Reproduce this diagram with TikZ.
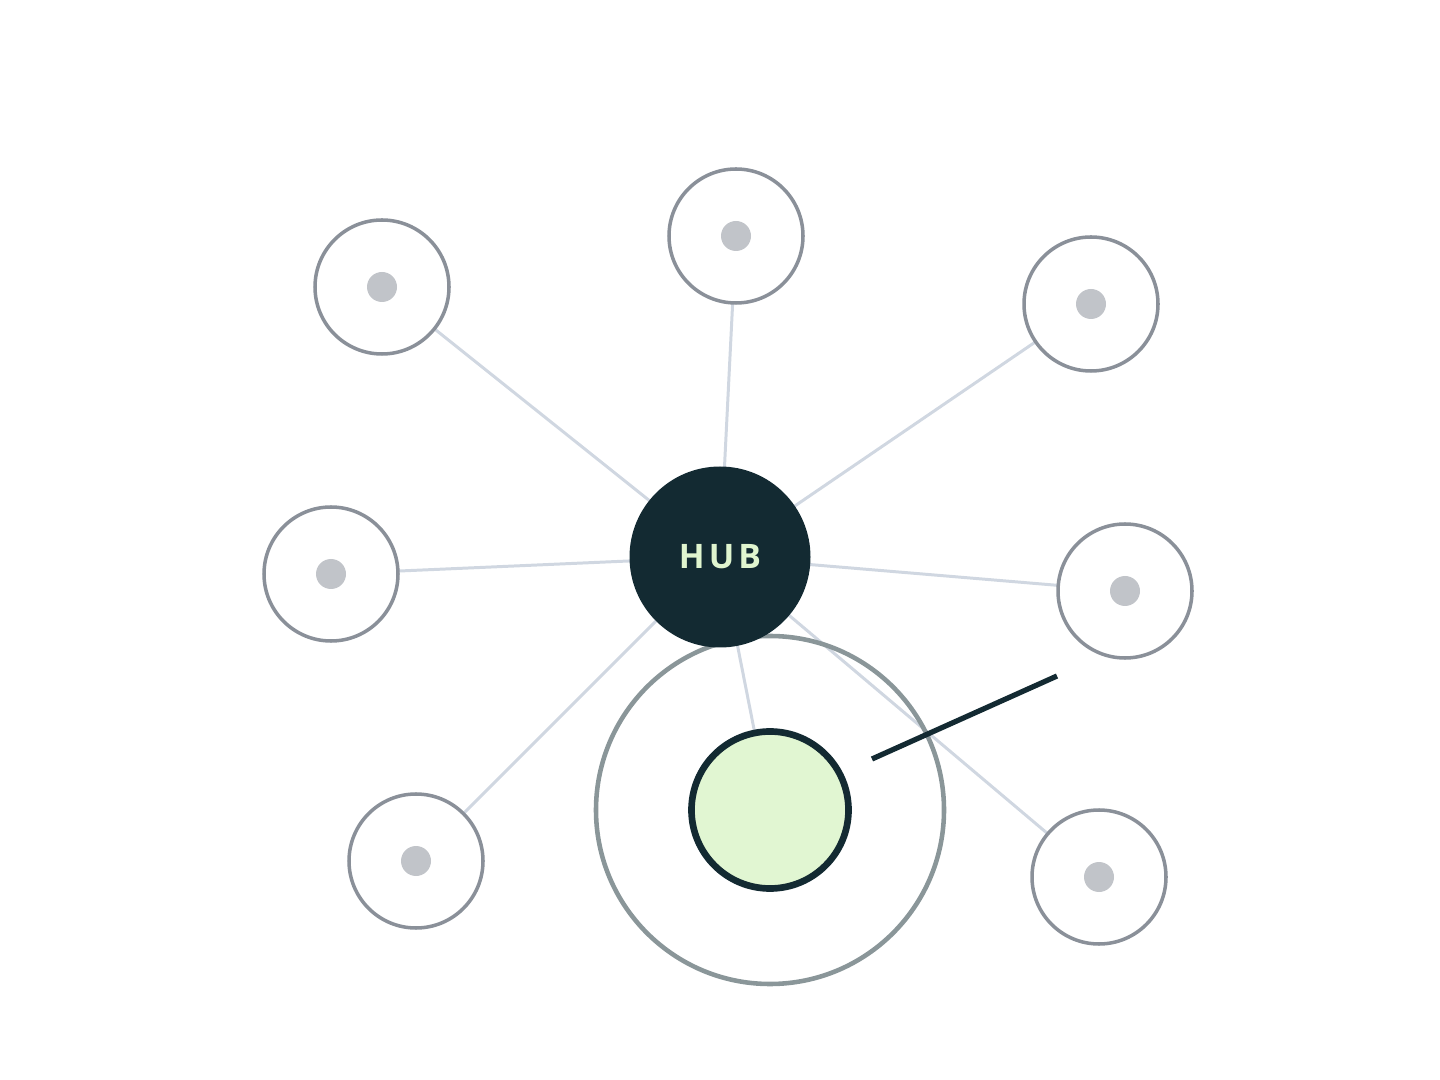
\documentclass[tikz,border=0pt]{standalone}
\usepackage{fontspec}
\newfontfamily\hubfont[LetterSpace=12]{Open Sans}
\usetikzlibrary{backgrounds}

\definecolor{hubdark}{HTML}{132A32}
\definecolor{hubtext}{HTML}{E0F5CF}
\definecolor{edgegray}{HTML}{D0D7E1}
\definecolor{satgray}{HTML}{8A9099}
\definecolor{dotgray}{HTML}{C1C4C9}
\definecolor{ringgray}{HTML}{8A9699}
\definecolor{focusgreen}{HTML}{E1F6D2}

\tikzset{
  hubnode/.style={circle,fill=hubdark,minimum size=1.81cm,inner sep=0pt},
  satnode/.style={circle,draw=satgray,line width=1pt,fill=white,minimum size=1.34cm,inner sep=0pt},
  satdot/.style={circle,fill=dotgray,minimum size=0.30cm,inner sep=0pt},
  spoke/.style={edgegray,line width=0.85pt},
  halo/.style={circle,draw=ringgray,line width=1.3pt,minimum size=3.48cm,inner sep=0pt},
  focusnode/.style={circle,draw=hubdark,line width=1.9pt,fill=focusgreen,minimum size=1.57cm,inner sep=0pt},
}

\begin{document}
\begin{tikzpicture}
	\useasboundingbox (0,0) rectangle (14.4,-10.8);

	% hub and outer nodes
	\node[hubnode] (hub) at (7.20,-5.57) {\hubfont\bfseries\fontsize{9.6}{12}\selectfont\textcolor{hubtext}{HUB}};

	\foreach \name/\x/\y in {topl/3.82/2.87, top/7.36/2.36, topr/10.91/3.04,
	                         left/3.31/5.74, right/11.25/5.91,
	                         botl/4.16/8.61, botr/10.99/8.77} {
		\node[satnode] (\name) at (\x,-\y) {};
		\node[satdot] (\name dot) at (\name) {};
	}

	\node[focusnode] (focus) at (7.70,-8.10) {};

	\begin{scope}[on background layer]
		\foreach \name in {topl,top,topr,left,right,botl,botr,focus}
			\draw[spoke] (hub.center) -- (\name.center);
		\node[halo] (ring) at (focus) {};
	\end{scope}

	% pointer
	\coordinate (tipin) at (8.72,-7.59);
	\coordinate (tipout) at (10.57,-6.76);
	\draw[hubdark,line width=1.5pt] (tipin) -- (tipout);
\end{tikzpicture}
\end{document}
